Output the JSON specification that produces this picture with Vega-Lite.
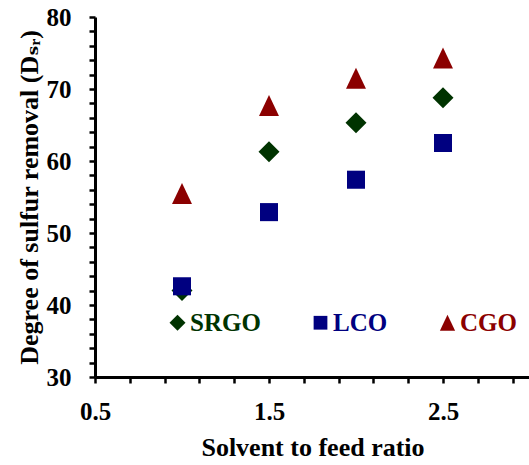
{
  "$schema": "https://vega.github.io/schema/vega-lite/v6.json",
  "width": 435,
  "height": 360,
  "padding": {"left": 16, "top": 5, "right": 0, "bottom": 5},
  "background": "white",
  "config": {
    "view": {"stroke": null},
    "font": "Times New Roman, Liberation Serif, DejaVu Serif, serif"
  },
  "data": {
    "values": [
      {"ratio": 1.0, "dsr": 42.0, "series": "SRGO"},
      {"ratio": 1.5, "dsr": 61.3, "series": "SRGO"},
      {"ratio": 2.0, "dsr": 65.3, "series": "SRGO"},
      {"ratio": 2.5, "dsr": 68.8, "series": "SRGO"},
      {"ratio": 1.0, "dsr": 42.6, "series": "LCO"},
      {"ratio": 1.5, "dsr": 52.9, "series": "LCO"},
      {"ratio": 2.0, "dsr": 57.4, "series": "LCO"},
      {"ratio": 2.5, "dsr": 62.5, "series": "LCO"},
      {"ratio": 1.0, "dsr": 55.5, "series": "CGO"},
      {"ratio": 1.5, "dsr": 67.7, "series": "CGO"},
      {"ratio": 2.0, "dsr": 71.5, "series": "CGO"},
      {"ratio": 2.5, "dsr": 74.3, "series": "CGO"}
    ]
  },
  "mark": {"type": "point", "filled": true, "opacity": 1, "strokeWidth": 0, "size": 441},
  "encoding": {
    "x": {
      "field": "ratio",
      "type": "quantitative",
      "scale": {"domain": [0.5, 3.0], "nice": false, "zero": false},
      "axis": {
        "title": "Solvent to feed ratio",
        "titleFont": "Times New Roman, Liberation Serif, DejaVu Serif, serif",
        "titleFontSize": 26,
        "titleFontWeight": "bold",
        "titleColor": "black",
        "titlePadding": 10,
        "values": [0.5, 0.7, 0.9, 1.1, 1.3, 1.5, 1.7, 1.9, 2.1, 2.3, 2.5, 2.7, 2.9],
        "labelExpr": "abs((datum.value * 10) % 10 - 5) < 0.5 ? format(datum.value, '.1f') : ''",
        "labelFont": "Times New Roman, Liberation Serif, DejaVu Serif, serif",
        "labelFontSize": 25,
        "labelFontWeight": "bold",
        "labelColor": "black",
        "labelPadding": 16,
        "labelFlush": false,
        "labelOverlap": false,
        "grid": false,
        "domainColor": "black",
        "domainWidth": 3,
        "tickColor": "black",
        "tickWidth": 2.5,
        "tickSize": 6,
        "encode": {
          "ticks": {
            "update": {
              "y": [{"test": "abs((datum.value * 10) % 10 - 5) < 0.5", "value": 6}, {"value": 0}],
              "y2": {"value": -6}
            }
          }
        }
      }
    },
    "y": {
      "field": "dsr",
      "type": "quantitative",
      "scale": {"domain": [30, 80], "nice": false, "zero": false},
      "axis": {
        "title": "Degree of sulfur removal (Dₛᵣ)",
        "titleFont": "Times New Roman, Liberation Serif, DejaVu Serif, serif",
        "titleFontSize": 26,
        "titleFontWeight": "bold",
        "titleColor": "black",
        "titlePadding": 4,
        "values": [30, 32, 34, 36, 38, 40, 42, 44, 46, 48, 50, 52, 54, 56, 58, 60, 62, 64, 66, 68, 70, 72, 74, 76, 78, 80],
        "labelExpr": "datum.value % 10 === 0 ? datum.label : ''",
        "labelFont": "Times New Roman, Liberation Serif, DejaVu Serif, serif",
        "labelFontSize": 25,
        "labelFontWeight": "bold",
        "labelColor": "black",
        "labelPadding": 18,
        "labelFlush": false,
        "labelOverlap": false,
        "grid": false,
        "domainColor": "black",
        "domainWidth": 3,
        "tickColor": "black",
        "tickWidth": 2.5,
        "tickSize": 6,
        "encode": {
          "ticks": {
            "update": {
              "x": [{"test": "datum.value % 10 === 0", "value": -6}, {"value": 0}],
              "x2": {"value": 6}
            }
          }
        }
      }
    },
    "color": {
      "field": "series",
      "type": "nominal",
      "scale": {"domain": ["SRGO", "LCO", "CGO"], "range": ["#003300", "#000080", "#8b0000"]},
      "legend": {
        "title": null,
        "orient": "none",
        "direction": "horizontal",
        "legendX": 70,
        "legendY": 293,
        "padding": 0,
        "columnPadding": 47,
        "labelOffset": 0,
        "labelFont": "Times New Roman, Liberation Serif, DejaVu Serif, serif",
        "labelFontSize": 25,
        "labelFontWeight": "bold",
        "symbolSize": 256,
        "symbolOpacity": 1,
        "symbolStrokeWidth": 0,
        "encode": {
          "labels": {
            "update": {
              "fill": [
                {"test": "datum.value === 'SRGO'", "value": "#003300"},
                {"test": "datum.value === 'LCO'", "value": "#000080"},
                {"value": "#8b0000"}
              ]
            }
          }
        }
      }
    },
    "shape": {
      "field": "series",
      "type": "nominal",
      "scale": {
        "domain": ["SRGO", "LCO", "CGO"],
        "range": [
          "M0,-1L1,0L0,1L-1,0Z",
          "M-0.86,-0.86L0.86,-0.86L0.86,0.86L-0.86,0.86Z",
          "M-0.95,1L0,-1L0.95,1Z"
        ]
      }
    }
  }
}
